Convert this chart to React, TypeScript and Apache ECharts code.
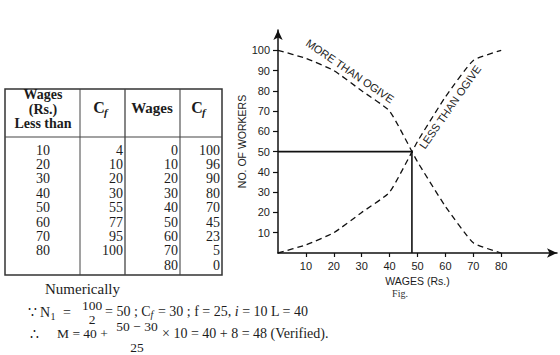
import React, { useEffect, useRef } from "react";
import * as echarts from "echarts";

// ---- data ----
const lessWages = [10, 20, 30, 40, 50, 60, 70, 80];
const lessCf = [4, 10, 20, 30, 55, 77, 95, 100];
const moreWages = [0, 10, 20, 30, 40, 50, 60, 70, 80];
const moreCf = [100, 96, 90, 80, 70, 45, 23, 5, 0];
const lessOrigin = [0, 0];
const median = [48, 50];
const xTickValues = [10, 20, 30, 40, 50, 60, 70, 80];
const yTickValues = [10, 20, 30, 40, 50, 60, 70, 80, 90, 100];

const SERIF = "'Liberation Serif', 'DejaVu Serif', serif";
const SANS = "'Liberation Sans', Arial, sans-serif";
const INK = "#1c1c1c";

function txt(text: string, x: number, y: number, size: number, opts: any = {}) {
  return {
    type: "text",
    silent: true,
    x,
    y,
    rotation: opts.rotation || 0,
    style: {
      text,
      x: 0,
      y: 0,
      fill: opts.fill || INK,
      fontFamily: opts.family || SERIF,
      fontSize: size,
      fontWeight: opts.weight || "normal",
      fontStyle: opts.style || "normal",
      align: opts.align || "left",
      verticalAlign: opts.va || "middle",
      rich: opts.rich,
    },
  };
}

function buildTable(): any[] {
  const els: any[] = [];
  const L = 5, T = 89, R = 222, B = 275, H = 137;
  els.push({ type: "rect", silent: true, shape: { x: L, y: T, width: R - L, height: B - T }, style: { fill: "none", stroke: "#333", lineWidth: 1.5 } });
  els.push({ type: "line", silent: true, shape: { x1: L, y1: H, x2: R, y2: H }, style: { stroke: "#444", lineWidth: 1.1 } });
  [[80, 1], [125, 1.3], [180, 1.1]].forEach(([x, w]) => {
    els.push({ type: "line", silent: true, shape: { x1: x, y1: T, x2: x, y2: B }, style: { stroke: "#444", lineWidth: w } });
  });
  // headers
  els.push(txt("Wages", 43, 94.5, 14, { weight: "bold", align: "center" }));
  els.push(txt("(Rs.)", 43, 109, 14, { weight: "bold", align: "center" }));
  els.push(txt("Less than", 43, 123.5, 14, { weight: "bold", align: "center" }));
  els.push(txt("Wages", 152, 108, 15, { weight: "bold", align: "center" }));
  els.push(txt("C", 99, 107, 16, { weight: "bold", align: "center" }));
  els.push(txt("f", 104, 112, 11, { weight: "bold", style: "italic" }));
  els.push(txt("C", 197, 107, 16, { weight: "bold", align: "center" }));
  els.push(txt("f", 202, 112, 11, { weight: "bold", style: "italic" }));
  const rowY = (i: number) => 150 + 14.4 * i;
  lessWages.forEach((w, i) => {
    els.push(txt(String(w), 43, rowY(i), 14, { align: "center" }));
    els.push(txt(String(lessCf[i]), 123, rowY(i), 14, { align: "right" }));
  });
  moreWages.forEach((w, i) => {
    els.push(txt(String(w), 178, rowY(i), 14, { align: "right" }));
    els.push(txt(String(moreCf[i]), 220, rowY(i), 14, { align: "right" }));
  });
  return els;
}

function buildText(): any[] {
  const els: any[] = [];
  els.push(txt("Numerically", 45, 289, 15));
  // line 2
  els.push(txt("\u2235", 28, 312, 14));
  els.push(txt("N", 40, 312, 14));
  els.push(txt("1", 50.5, 316, 10));
  els.push(txt("=", 63, 312, 14));
  els.push(txt("100", 92, 305, 13.5, { align: "center" }));
  els.push(txt("2", 92, 319, 13.5, { align: "center" }));
  els.push(
    txt("{n|= 50 ; C}{s|f}{n| = 30 ; f = 25, }{i|i}{n| = 10 L = 40}", 105, 311, 14, {
      rich: {
        n: { fontSize: 14, fontFamily: SERIF, fill: INK },
        s: { fontSize: 10, fontFamily: SERIF, fontStyle: "italic", fill: INK, padding: [6, 1, 0, 0] },
        i: { fontSize: 14, fontFamily: SERIF, fontStyle: "italic", fill: INK },
      },
    })
  );
  // line 3
  els.push(txt("\u2234", 30, 334, 14));
  els.push(txt("M = 40 +", 57, 333, 13.5));
  els.push(txt("50 \u2212 30", 137, 326, 13.5, { align: "center" }));
  els.push(txt("25", 137, 347, 13.5, { align: "center" }));
  els.push(txt("\u00d7 10 = 40 + 8 = 48 (Verified).", 162, 333, 14));
  return els;
}

export default function App() {
  const ref = useRef<HTMLDivElement>(null);
  useEffect(() => {
    if (!ref.current) return;
    const chart = echarts.init(ref.current, undefined, { renderer: "svg" });
    const lessData = [lessOrigin, ...lessWages.map((w, i) => [w, lessCf[i]])];
    const moreData = moreWages.map((w, i) => [w, moreCf[i]]);
    const medianData = [[0, median[1]], median, [median[0], 0]];
    const axisCommon = {
      type: "value",
      splitLine: { show: false },
      axisLine: { show: true, lineStyle: { color: "#111", width: 1.5 }, symbol: ["none", "arrow"], symbolSize: [7, 10] },
      nameTextStyle: { fontFamily: SANS, fontSize: 10.5, color: INK },
    };
    chart.setOption({
      animation: false,
      backgroundColor: "#ffffff",
      grid: { left: 278, right: 3, top: 30, bottom: 102, containLabel: false, outerBoundsMode: "none" },
      xAxis: {
        ...axisCommon,
        min: 0,
        max: 100,
        interval: 10,
        axisTick: { show: true, length: 4, customValues: xTickValues, lineStyle: { color: "#111", width: 1.2 } },
        axisLabel: { customValues: xTickValues, margin: 7, fontSize: 11, fontFamily: SANS, color: INK },
        name: "WAGES (Rs.)",
        nameLocation: "middle",
        nameGap: 18,
      },
      yAxis: {
        ...axisCommon,
        min: 0,
        max: 110,
        interval: 10,
        axisTick: { show: true, length: 5, customValues: yTickValues, lineStyle: { color: "#111", width: 1.2 } },
        axisLabel: { customValues: yTickValues, margin: 8, fontSize: 11, fontFamily: SANS, color: INK },
        name: "NO. OF WORKERS",
        nameLocation: "middle",
        nameGap: 31,
      },
      series: [
        {
          name: "Less than ogive",
          type: "line",
          data: lessData,
          symbol: "none",
          smooth: 0.15,
          lineStyle: { color: "#111", width: 1.3, type: [6, 4] },
          silent: true,
        },
        {
          name: "More than ogive",
          type: "line",
          data: moreData,
          symbol: "none",
          smooth: 0.15,
          lineStyle: { color: "#111", width: 1.3, type: [6, 4] },
          silent: true,
        },
        {
          name: "Median",
          type: "line",
          data: medianData,
          symbol: "none",
          lineStyle: { color: "#111", width: 1.6, type: "solid" },
          silent: true,
        },
      ],
      graphic: [
        ...buildTable(),
        ...buildText(),
        txt("MORE THAN OGIVE", 350, 71, 11, { family: SANS, align: "center", rotation: -0.6 }),
        txt("LESS THAN OGIVE", 450, 107, 11, { family: SANS, align: "center", rotation: 0.96 }),
        txt("Fig.", 400, 293, 10, { align: "center", fill: "#333" }),
      ],
    });
    return () => chart.dispose();
  }, []);
  return (
    <div
      ref={ref}
      style={{ position: "absolute", left: 0, top: 0, width: 560, height: 355, background: "#fff" }}
    />
  );
}
